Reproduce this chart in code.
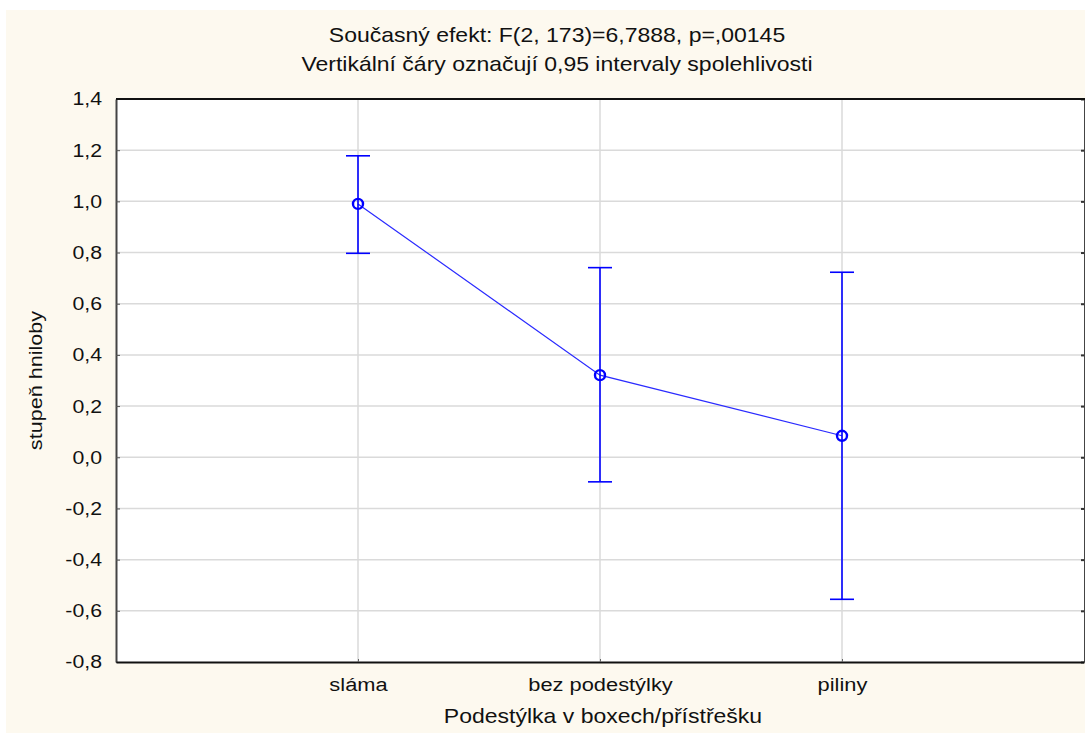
<!DOCTYPE html>
<html>
<head>
<meta charset="utf-8">
<script src="https://cdn.jsdelivr.net/npm/d3@7"></script>
<style>
  body { margin: 0; background: #fff; }
  text { font-family: "Liberation Sans", Arial, sans-serif; fill: #111; }
</style>
</head>
<body>
<div class="chartContainer"></div>
<script>
// values
const categories = ["sláma", "bez podestýlky", "piliny"];
const means = [0.99, 0.321, 0.084];
const ciLower = [0.797, -0.096, -0.555];
const ciUpper = [1.178, 0.741, 0.723];
const yTicks = [-0.8, -0.6, -0.4, -0.2, 0, 0.2, 0.4, 0.6, 0.8, 1.0, 1.2, 1.4];

const titleLines = [
  "Současný efekt: F(2, 173)=6,7888, p=,00145",
  "Vertikální čáry označují 0,95 intervaly spolehlivosti"
];
const xTitle = "Podestýlka v boxech/přístřešku";
const yTitle = "stupeň hniloby";

const w = 1085;
const h = 733;
const m = { left: 116, right: 1, top: 99, bottom: 71 };
// the original text is a bit wider than it is tall
const stretch = 1.15;

const cz = d3.formatLocale({
  decimal: ",",
  thousands: " ",
  grouping: [3],
  currency: ["", ""],
  minus: "-"
});
const fmt = cz.format(".1f");

const svg = d3
  .select(".chartContainer")
  .append("svg")
  .attr("width", w)
  .attr("height", h);

// cream background
svg
  .append("rect")
  .attr("x", 6)
  .attr("y", 10)
  .attr("width", w - 6)
  .attr("height", h - 10)
  .attr("fill", "#fdf9ef");

// plot area
svg
  .append("rect")
  .attr("x", m.left)
  .attr("y", m.top)
  .attr("width", w - m.right - m.left)
  .attr("height", h - m.bottom - m.top)
  .attr("fill", "#fff");

const xScale = d3
  .scalePoint()
  .domain(categories)
  .range([m.left, w - m.right])
  .padding(1);

const yScale = d3
  .scaleLinear()
  .domain([-0.8, 1.4])
  .range([h - m.bottom, m.top]);

// grid
svg
  .append("g")
  .selectAll("line")
  .data(yTicks.slice(1, -1))
  .enter()
  .append("line")
  .attr("x1", m.left)
  .attr("x2", w - m.right)
  .attr("y1", (d) => yScale(d))
  .attr("y2", (d) => yScale(d))
  .attr("stroke", "#dadada")
  .attr("stroke-width", 1.5);

svg
  .append("g")
  .selectAll("line")
  .data(categories)
  .enter()
  .append("line")
  .attr("x1", (d) => xScale(d))
  .attr("x2", (d) => xScale(d))
  .attr("y1", m.top)
  .attr("y2", h - m.bottom)
  .attr("stroke", "#dadada")
  .attr("stroke-width", 1.5);

// Y axis
const yPad = 14;
const yAxis = d3
  .axisLeft(yScale)
  .tickValues(yTicks)
  .tickFormat(fmt)
  .tickSizeInner(-4)
  .tickSizeOuter(0)
  .tickPadding(yPad);

const yAxisHandle = svg
  .append("g")
  .attr("transform", "translate(" + m.left + ",0)")
  .call(yAxis);
yAxisHandle.select(".domain").attr("stroke", "#444").attr("stroke-width", 2);
yAxisHandle.selectAll(".tick line").attr("stroke", "#555");
yAxisHandle
  .selectAll("text")
  .attr("font-size", 18.5)
  .attr("font-family", "Liberation Sans, Arial, sans-serif")
  .attr("fill", "#111")
  .attr("x", -yPad / stretch)
  .attr("transform", "scale(" + stretch + ",1)");

// right side ticks
const yAxisR = d3
  .axisRight(yScale)
  .tickValues(yTicks)
  .tickFormat("")
  .tickSizeInner(-3)
  .tickSizeOuter(0);
const yAxisRHandle = svg
  .append("g")
  .attr("transform", "translate(" + (w - m.right) + ",0)")
  .call(yAxisR);
yAxisRHandle.select(".domain").attr("stroke", "#444").attr("stroke-width", 1);
yAxisRHandle.selectAll(".tick line").attr("stroke", "#333").attr("stroke-width", 2);

// X axis
const xAxis = d3
  .axisBottom(xScale)
  .tickSizeInner(-3)
  .tickSizeOuter(0)
  .tickPadding(15.5);
const xAxisHandle = svg
  .append("g")
  .attr("transform", "translate(0," + (h - m.bottom) + ")")
  .call(xAxis);
xAxisHandle.select(".domain").attr("stroke", "#111").attr("stroke-width", 2);
xAxisHandle.selectAll(".tick line").attr("stroke", "#666");
xAxisHandle
  .selectAll("text")
  .attr("font-size", 19)
  .attr("font-family", "Liberation Sans, Arial, sans-serif")
  .attr("fill", "#111")
  .attr("transform", "scale(" + stretch + ",1)");

// top border
svg
  .append("line")
  .attr("x1", m.left)
  .attr("x2", w)
  .attr("y1", m.top)
  .attr("y2", m.top)
  .attr("stroke", "#111")
  .attr("stroke-width", 2);

// titles
svg
  .append("g")
  .selectAll("text")
  .data(titleLines)
  .enter()
  .append("text")
  .attr("transform", (d, i) => "translate(557," + (42 + i * 29) + ") scale(" + stretch + ",1)")
  .attr("text-anchor", "middle")
  .attr("font-size", 20)
  .text((d) => d);

svg
  .append("text")
  .attr("transform", "translate(603,723) scale(" + stretch + ",1)")
  .attr("text-anchor", "middle")
  .attr("font-size", 20)
  .text(xTitle);

svg
  .append("text")
  .attr("transform", "translate(42," + (m.top + (h - m.bottom - m.top) / 2) + ") rotate(-90) scale(1.2,1)")
  .attr("text-anchor", "middle")
  .attr("font-size", 18)
  .text(yTitle);

// connecting line
const line = d3
  .line()
  .x((d, i) => xScale(categories[i]))
  .y((d) => yScale(d));

svg
  .append("path")
  .datum(means)
  .attr("d", line)
  .attr("fill", "none")
  .attr("stroke", "#2a2aff")
  .attr("stroke-width", 1.2);

// error bars
const bars = svg
  .append("g")
  .selectAll("g")
  .data(categories)
  .enter()
  .append("g");

bars
  .append("line")
  .attr("x1", (d) => xScale(d))
  .attr("x2", (d) => xScale(d))
  .attr("y1", (d, i) => yScale(ciLower[i]))
  .attr("y2", (d, i) => yScale(ciUpper[i]))
  .attr("stroke", "#0000ff")
  .attr("stroke-width", 1.6);

bars
  .append("line")
  .attr("x1", (d) => xScale(d) - 12)
  .attr("x2", (d) => xScale(d) + 12)
  .attr("y1", (d, i) => yScale(ciUpper[i]))
  .attr("y2", (d, i) => yScale(ciUpper[i]))
  .attr("stroke", "#0000ff")
  .attr("stroke-width", 1.6);

bars
  .append("line")
  .attr("x1", (d) => xScale(d) - 12)
  .attr("x2", (d) => xScale(d) + 12)
  .attr("y1", (d, i) => yScale(ciLower[i]))
  .attr("y2", (d, i) => yScale(ciLower[i]))
  .attr("stroke", "#0000ff")
  .attr("stroke-width", 1.6);

bars
  .append("circle")
  .attr("cx", (d) => xScale(d))
  .attr("cy", (d, i) => yScale(means[i]))
  .attr("r", 5)
  .attr("fill", "none")
  .attr("stroke", "#0000ff")
  .attr("stroke-width", 2.4);
</script>
</body>
</html>
